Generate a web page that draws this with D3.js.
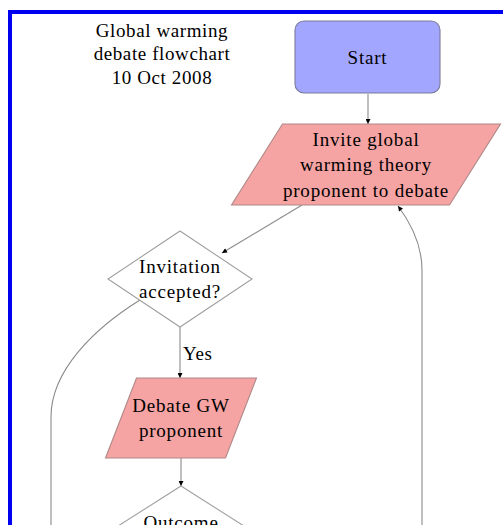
<!DOCTYPE html>
<html>
<head>
<meta charset="utf-8">
<script src="https://cdn.jsdelivr.net/npm/d3@7"></script>
<style>
  html, body { margin: 0; padding: 0; background: #fff; overflow: hidden; }
</style>
</head>
<body>
<svg id="svg"></svg>
<script>
"use strict";
var width = 503;
var height = 525;

// flowchart content
var titleLines = ["Global warming", "debate flowchart", "10 Oct 2008"];
var nodeIds = ["start", "invite", "invitation", "debate", "outcome"];
var nodeShapes = ["box", "parallelogram", "diamond", "parallelogram", "diamond"];
var nodeLabels = [
    ["Start"],
    ["Invite global", "warming theory", "proponent to debate"],
    ["Invitation", "accepted?"],
    ["Debate GW", "proponent"],
    ["Outcome"]
];
var edgeFrom = ["start", "invite", "invitation", "debate", "invitation", "loop"];
var edgeTo = ["invite", "invitation", "debate", "outcome", "no", "invite"];
var edgeLabels = ["", "", "Yes", "", "", ""];

// layout (kept apart from the content)
var layout = {
    start: { cx: 367.5, cy: 57, w: 145, h: 72 },
    invite: { cx: 366, cy: 164.5, w: 218, h: 81, slant: 51 },
    invitation: { cx: 180, cy: 279, w: 144, h: 96 },
    debate: { cx: 181, cy: 418, w: 120, h: 80, slant: 31 },
    outcome: { cx: 181, cy: 540, w: 170, h: 108 }
};
var routes = [
    [[368, 94], [368, 124]],
    [[302, 205], [222, 253]],
    [[180, 327], [180, 378]],
    [[181, 458], [181, 486]],
    [[140, 300], [95, 328], [51, 370], [51, 417], [51, 560]],
    [[422, 560], [422, 270], [422, 245], [410, 222], [398, 206]]
];
var labelPos = { "Yes": [183, 360] };

var fontFamily = "'Liberation Serif', 'Times New Roman', serif";

var svg = d3.select("#svg")
    .attr("width", width)
    .attr("height", height)
    .attr("viewBox", "0 0 " + width + " " + height)
    .style("display", "block");

// arrow head
svg.append("defs").append("marker")
    .attr("id", "arrow")
    .attr("viewBox", "0 0 10 10")
    .attr("refX", 10)
    .attr("refY", 5)
    .attr("markerWidth", 6)
    .attr("markerHeight", 5)
    .attr("markerUnits", "userSpaceOnUse")
    .attr("orient", "auto")
    .append("path")
    .attr("d", "M0,0 L10,5 L0,10 z")
    .attr("fill", "#000");

// blue frame
svg.append("rect")
    .attr("x", 10)
    .attr("y", 12)
    .attr("width", 600)
    .attr("height", 600)
    .attr("fill", "none")
    .attr("stroke", "#0000f0")
    .attr("stroke-width", 4);

// title
svg.append("text")
    .attr("x", 162)
    .attr("text-anchor", "middle")
    .style("font-family", fontFamily)
    .style("font-size", "19px")
    .style("letter-spacing", "0.6px")
    .attr("fill", "#000")
    .selectAll("tspan")
    .data(titleLines)
    .enter()
    .append("tspan")
    .attr("x", 162)
    .attr("y", function (d, i) { return 36.5 + i * 23.5; })
    .text(function (d) { return d; });

// edges
var pathFor = function (pts, i) {
    var p = d3.path();
    p.moveTo(pts[0][0], pts[0][1]);
    if (pts.length === 2) {
        p.lineTo(pts[1][0], pts[1][1]);
    } else if (edgeFrom[i] === "loop") {
        p.lineTo(pts[1][0], pts[1][1]);
        p.bezierCurveTo(pts[2][0], pts[2][1], pts[3][0], pts[3][1], pts[4][0], pts[4][1]);
    } else {
        p.bezierCurveTo(pts[1][0], pts[1][1], pts[2][0], pts[2][1], pts[3][0], pts[3][1]);
        p.lineTo(pts[4][0], pts[4][1]);
    }
    return p.toString();
};

svg.selectAll("path.edge")
    .data(routes)
    .enter()
    .append("path")
    .attr("class", "edge")
    .attr("d", pathFor)
    .attr("fill", "none")
    .attr("stroke", "#8a8a8a")
    .attr("stroke-width", 1.1)
    .attr("marker-end", function (d, i) { return edgeTo[i] === "no" ? null : "url(#arrow)"; });

// nodes
var shapePath = function (id, shape) {
    var n = layout[id];
    var x0 = n.cx - n.w / 2, x1 = n.cx + n.w / 2;
    var y0 = n.cy - n.h / 2, y1 = n.cy + n.h / 2;
    if (shape === "parallelogram") {
        var s = n.slant / 2;
        return "M" + (x0 + s) + "," + y0 + "L" + (x1 + s) + "," + y0 +
            "L" + (x1 - s) + "," + y1 + "L" + (x0 - s) + "," + y1 + "Z";
    }
    if (shape === "diamond") {
        return "M" + n.cx + "," + y0 + "L" + x1 + "," + n.cy +
            "L" + n.cx + "," + y1 + "L" + x0 + "," + n.cy + "Z";
    }
    var r = 9;
    var p = d3.path();
    p.moveTo(x0 + r, y0);
    p.lineTo(x1 - r, y0);
    p.arcTo(x1, y0, x1, y0 + r, r);
    p.lineTo(x1, y1 - r);
    p.arcTo(x1, y1, x1 - r, y1, r);
    p.lineTo(x0 + r, y1);
    p.arcTo(x0, y1, x0, y1 - r, r);
    p.lineTo(x0, y0 + r);
    p.arcTo(x0, y0, x0 + r, y0, r);
    p.closePath();
    return p.toString();
};
var fills = { box: "#a3a6ff", parallelogram: "#f5a3a3", diamond: "#ffffff" };
var strokes = { box: "#7a7a9a", parallelogram: "#b08888", diamond: "#a0a0a0" };

var node = svg.selectAll("g.node")
    .data(nodeIds)
    .enter()
    .append("g")
    .attr("class", "node");

node.append("path")
    .attr("d", function (d, i) { return shapePath(d, nodeShapes[i]); })
    .attr("fill", function (d, i) { return fills[nodeShapes[i]]; })
    .attr("stroke", function (d, i) { return strokes[nodeShapes[i]]; })
    .attr("stroke-width", 1.1);

var lineGap = 25.5;
node.append("text")
    .attr("text-anchor", "middle")
    .style("font-family", fontFamily)
    .style("font-size", "19px")
    .style("letter-spacing", "0.8px")
    .attr("fill", "#000")
    .each(function (d, i) {
        var n = layout[d];
        var lines = nodeLabels[i];
        var first = n.cy + 6.5 - (lines.length - 1) * lineGap / 2;
        if (d === "outcome") first = n.cy - 11;
        d3.select(this).selectAll("tspan")
            .data(lines)
            .enter()
            .append("tspan")
            .attr("x", n.cx)
            .attr("y", function (t, j) { return first + j * lineGap; })
            .text(function (t) { return t; });
    });

// edge labels
svg.selectAll("text.elabel")
    .data(edgeLabels.filter(function (l) { return l !== ""; }))
    .enter()
    .append("text")
    .attr("class", "elabel")
    .attr("x", function (d) { return labelPos[d][0]; })
    .attr("y", function (d) { return labelPos[d][1]; })
    .style("font-family", fontFamily)
    .style("font-size", "19px")
    .style("letter-spacing", "0.6px")
    .attr("fill", "#000")
    .text(function (d) { return d; });
</script>
</body>
</html>
